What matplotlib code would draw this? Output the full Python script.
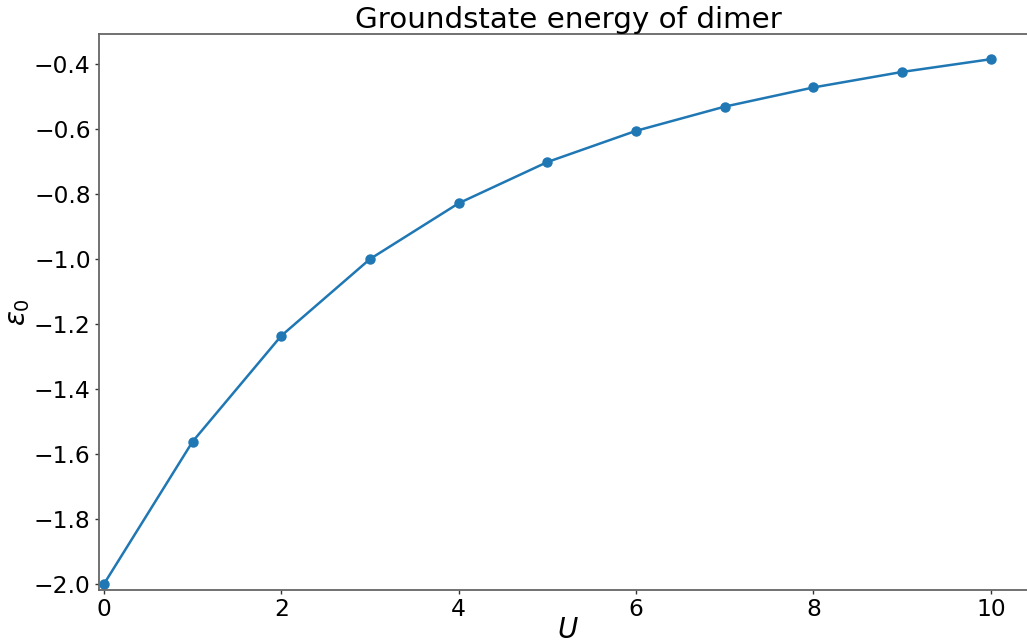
import matplotlib
matplotlib.use("Agg")
import matplotlib.pyplot as plt

# Hubbard dimer: interaction strength and ground-state energy
U_values = [0, 1, 2, 3, 4, 5, 6, 7, 8, 9, 10]
eps0_values = [-2.0, -1.5616, -1.2361, -1.0, -0.8284, -0.7016,
               -0.6056, -0.5311, -0.4721, -0.4244, -0.3852]

W, H = 1027, 641
fig = plt.figure(figsize=(W / 100, H / 100), dpi=100)
left, bottom, right, top = 99, 590, 1037, 34
ax = fig.add_axes([left / W, (H - bottom) / H, (right - left) / W, (bottom - top) / H])

ax.plot(U_values, eps0_values, "-o", color="#1f77b4", linewidth=1.8, markersize=6.5)

ax.set_xlim(-0.056, 10.52)
ax.set_ylim(-2.0185, -0.3077)
ax.set_xticks([0, 2, 4, 6, 8, 10])
ax.set_yticks([-2.0, -1.8, -1.6, -1.4, -1.2, -1.0, -0.8, -0.6, -0.4])

for s in ax.spines.values():
    s.set_color("#666666")
    s.set_linewidth(1.3)
ax.tick_params(labelsize=16.8, length=3, width=1, color="#333333", pad=3)

ax.set_title("Groundstate energy of dimer", fontsize=21.2, pad=3)
ax.set_xlabel(r"$U$", fontsize=20, labelpad=-4)
ax.set_ylabel(r"$\epsilon_0$", fontsize=20, labelpad=1)

fig.savefig("out.png", dpi=100)
